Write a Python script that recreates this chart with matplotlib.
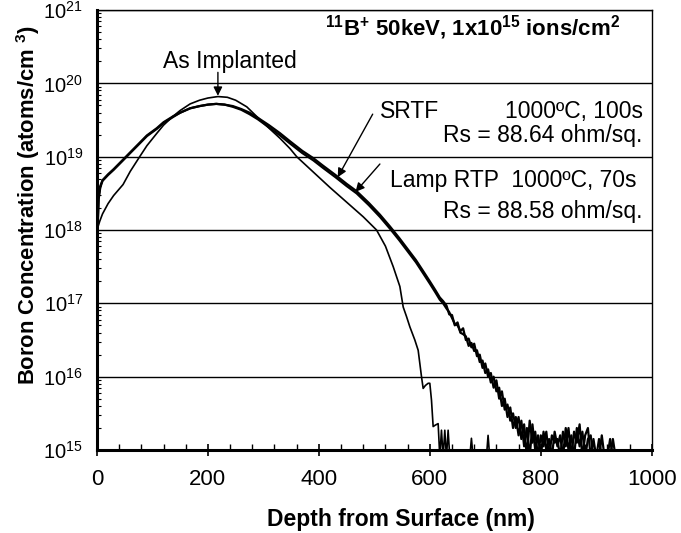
import numpy as np
import matplotlib
matplotlib.use("Agg")
import matplotlib.pyplot as plt
from matplotlib.ticker import MultipleLocator, FixedLocator, NullFormatter

plt.rcParams['font.family'] = ['Liberation Sans', 'DejaVu Sans']
plt.rcParams['mathtext.fontset'] = 'custom'
plt.rcParams['mathtext.rm'] = 'Liberation Sans'
plt.rcParams['mathtext.bf'] = 'Liberation Sans:bold'
plt.rcParams['mathtext.it'] = 'Liberation Sans:italic'

# ---- data (depth in nm, log10 of concentration in atoms/cm3) ----
impl_depth = [0, 5, 10, 20, 30, 47, 60, 77, 90, 108, 120, 137, 150, 168, 185, 200, 218,
              235, 250, 270, 300, 330, 348, 360, 390, 420, 450, 480, 504, 520,
              534, 546, 552, 558, 564, 573, 579, 585, 588, 592, 597, 600, 603, 606, 610,
              615, 618, 621, 624, 627, 630, 633, 636, 672, 675, 678, 702, 705, 708, 1000]
impl_log = [18.0, 18.12, 18.22, 18.36, 18.47, 18.62, 18.8, 19.0, 19.15, 19.32, 19.43, 19.55,
            19.63, 19.72, 19.77, 19.8, 19.82, 19.81, 19.77, 19.68, 19.46, 19.25, 19.11, 19.0,
            18.79, 18.58, 18.38, 18.18, 18.0, 17.78, 17.5, 17.23, 16.95, 16.82,
            16.68, 16.5, 16.36, 16.0, 15.84, 15.88, 15.91, 15.91, 15.68, 15.32, 15.34, 15.36,
            14.9, 15.27, 14.9, 15.27, 14.9, 15.27, 14.9, 14.9, 15.16, 14.9, 14.9, 15.2, 14.9, 14.9]

anneal_depth = [0, 1, 3, 6, 10, 20, 30, 47, 60, 77, 90, 108, 120, 137, 150, 168, 185, 200,
                215, 230, 245, 260, 275, 290, 310, 330, 348, 370, 390, 407, 430, 450, 468,
                490, 510, 528, 545, 558, 575, 588, 600, 610, 618, 624,
                630, 635, 640, 645, 650, 655, 660, 665, 670, 675, 680, 685, 690, 695, 700,
                705, 710, 715, 720, 725, 730, 735, 740, 745, 750, 755, 760, 765, 770, 775,
                780, 785, 790, 795, 800, 805, 810, 815, 820, 825, 830, 835, 840, 845, 850,
                855, 860, 865, 870, 875, 880, 885, 890, 895, 900, 905, 910, 915, 920, 925,
                930, 935, 940, 1000]
srtf_log = [20.3, 18.0, 18.45, 18.6, 18.68, 18.76, 18.83, 18.96, 19.06, 19.19, 19.29, 19.39,
            19.47, 19.55, 19.6, 19.66, 19.69, 19.71, 19.72, 19.71, 19.68, 19.64, 19.58, 19.51,
            19.4, 19.29, 19.18, 19.05, 18.95, 18.85, 18.72, 18.6, 18.5, 18.34, 18.18, 18.02,
            17.86, 17.73, 17.56, 17.41, 17.27, 17.15, 17.05, 17.0,
            16.93, 16.88, 16.8, 16.72, 16.7, 16.62, 16.66, 16.5, 16.52, 16.4, 16.45, 16.28,
            16.3, 16.12, 16.18, 16.0, 16.05, 15.85, 15.95, 15.7, 15.8, 15.55, 15.62, 15.4,
            15.5, 15.3, 15.45, 15.15, 15.35, 14.9, 15.4, 15.1, 15.25, 14.9, 15.2, 15.05,
            15.25, 14.9, 15.2, 15.1, 15.15, 14.9, 15.25, 15.05, 15.3, 14.9, 15.25, 15.1,
            15.35, 14.9, 15.2, 15.3, 14.9, 15.15, 14.9, 14.9, 15.2, 14.9, 14.9, 15.15,
            14.9, 14.9, 14.9, 14.9]
lamp_log = [20.3, 18.0, 18.42, 18.58, 18.67, 18.75, 18.82, 18.95, 19.05, 19.18, 19.28, 19.38,
            19.46, 19.54, 19.6, 19.66, 19.69, 19.71, 19.72, 19.71, 19.69, 19.65, 19.6, 19.53,
            19.43, 19.32, 19.21, 19.08, 18.98, 18.88, 18.75, 18.63, 18.53, 18.37, 18.21, 18.05,
            17.89, 17.76, 17.59, 17.44, 17.3, 17.18, 17.08, 17.03,
            16.97, 16.85, 16.84, 16.7, 16.74, 16.6, 16.58, 16.55, 16.42, 16.46, 16.35, 16.36,
            16.2, 16.22, 16.05, 16.1, 15.92, 16.0, 15.8, 15.85, 15.6, 15.7, 15.45, 15.58,
            15.3, 15.45, 15.2, 15.4, 15.05, 15.3, 14.9, 15.35, 15.0, 15.2, 14.9, 15.25,
            15.0, 15.15, 14.9, 15.25, 15.05, 15.2, 14.9, 15.3, 15.0, 15.2, 14.9, 15.3,
            15.05, 15.25, 14.9, 15.15, 15.2, 14.9, 14.9, 15.15, 14.9, 14.9, 14.9, 14.9,
            15.15, 14.9, 14.9, 14.9]

decades = [1e15, 1e16, 1e17, 1e18, 1e19, 1e20, 1e21]

fig = plt.figure(figsize=(6.81, 5.33), dpi=100)
ax = fig.add_axes([0.1424, 0.1557, 0.8146, 0.8255])

ax.plot(impl_depth, 10 ** np.array(impl_log), color='k', lw=1.2, zorder=3)
ax.plot(anneal_depth, 10 ** np.array(srtf_log), color='k', lw=1.6, zorder=3)
ax.plot(anneal_depth, 10 ** np.array(lamp_log), color='k', lw=1.6, zorder=3)

ax.set_yscale('log')
ax.set_xlim(0, 1000)
ax.set_ylim(1e15, 1e21)

ax.yaxis.set_major_locator(FixedLocator(decades))
minor = [m * d for d in decades[:-1] for m in range(2, 10)]
ax.yaxis.set_minor_locator(FixedLocator(minor))
ax.yaxis.set_minor_formatter(NullFormatter())
ax.yaxis.grid(True, which='major', color='k', lw=1.0)
ax.set_axisbelow(True)

ax.xaxis.set_major_locator(MultipleLocator(200))
ax.xaxis.set_minor_locator(MultipleLocator(40))
ax.tick_params(axis='x', which='major', direction='inout', length=8, width=1.2,
               labelsize=16, pad=10)
ax.tick_params(axis='x', which='minor', direction='in', length=4, width=1)
ax.tick_params(axis='y', which='major', direction='in', length=0, labelsize=14.5, pad=10)
ax.tick_params(axis='y', which='minor', direction='in', length=3, width=0.8)

for s in ['top', 'right']:
    ax.spines[s].set_linewidth(1.0)
for s in ['left', 'bottom']:
    ax.spines[s].set_linewidth(2.2)

ax.set_xlabel('Depth from Surface (nm)', fontsize=16.5, fontweight='bold')
ax.xaxis.set_label_coords(0.548, -0.132)
ax.set_ylabel(r'Boron Concentration (atoms/cm $^{\mathbf{3}}$)', fontsize=15.8,
              fontweight='bold')
ax.yaxis.set_label_coords(-0.1, 0.557)

ax.text(411, 10 ** 20.66, r'$^{\mathbf{11}}$B$^{\mathbf{+}}$ 50keV, 1x10$^{\mathbf{15}}$ ions/cm$^{\mathbf{2}}$',
        fontsize=16, fontweight='bold', ha='left', va='baseline')

arrow = dict(arrowstyle='-|>', color='k', lw=1, mutation_scale=13, shrinkA=0, shrinkB=0)

ax.text(240, 10 ** 20.21, 'As Implanted', fontsize=16.5, ha='center', va='baseline')
ax.annotate('', xy=(218, 10 ** 19.83), xytext=(218, 10 ** 20.15), arrowprops=arrow)

ax.text(510, 10 ** 19.53, 'SRTF', fontsize=16.5, ha='left', va='baseline')
ax.text(984, 10 ** 19.53, '1000ºC, 100s', fontsize=16.5, ha='right', va='baseline')
ax.text(984, 10 ** 19.20, 'Rs = 88.64 ohm/sq.', fontsize=16.5, ha='right', va='baseline')
ax.annotate('', xy=(434, 10 ** 18.72), xytext=(497, 10 ** 19.58), arrowprops=arrow)

ax.text(528, 10 ** 18.59, 'Lamp RTP  1000ºC, 70s', fontsize=16.5, ha='left', va='baseline')
ax.text(984, 10 ** 18.16, 'Rs = 88.58 ohm/sq.', fontsize=16.5, ha='right', va='baseline')
ax.annotate('', xy=(466, 10 ** 18.52), xytext=(510, 10 ** 18.9), arrowprops=arrow)

fig.savefig('out.png', dpi=100)
